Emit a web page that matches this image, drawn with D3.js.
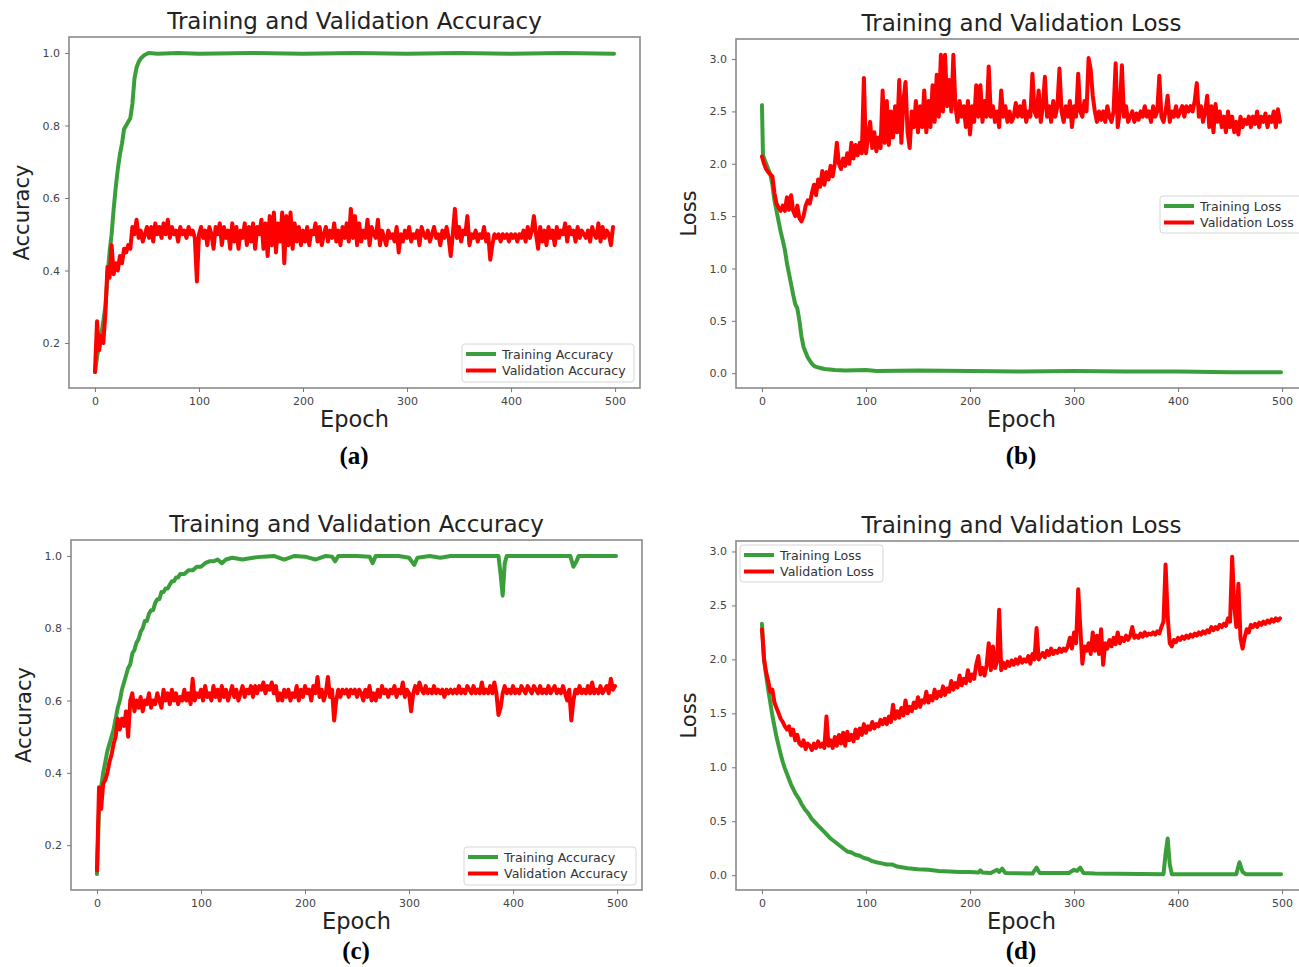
<!DOCTYPE html>
<html><head><meta charset="utf-8">
<script src="https://cdn.jsdelivr.net/npm/d3@7"></script>
<style>body{margin:0;background:#fff}</style>
</head><body>
<svg id="fig" width="1299" height="967"></svg>
<script>
// ---------- DATA ----------
const epochs = d3.range(0, 500, 2); // validation series sampled every 2 epochs
const xTicks = [0, 100, 200, 300, 400, 500];
const accTicks = [0.2, 0.4, 0.6, 0.8, 1.0];
const lossTicks = [0.0, 0.5, 1.0, 1.5, 2.0, 2.5, 3.0];
const accTitle = "Training and Validation Accuracy";
const lossTitle = "Training and Validation Loss";
const accLegend = ["Training Accuracy", "Validation Accuracy"];
const lossLegend = ["Training Loss", "Validation Loss"];
const captions = ["(a)", "(b)", "(c)", "(d)"];

// (a) training accuracy [epoch, value]
const aTrainAcc = [[0,0.12],[2,0.16],[4,0.2],[6,0.22],[8,0.26],[10,0.3],[12,0.38],[14,0.45],[16,0.5],[18,0.57],[20,0.63],[22,0.68],[24,0.72],[26,0.75],[28,0.79],[30,0.8],[32,0.81],[34,0.82],[36,0.86],[38,0.93],[40,0.96],[42,0.975],[44,0.985],[46,0.99],[48,0.995],[52,1.0],[60,0.998],[80,1.0],[100,0.998],[150,1.0],[200,0.998],[250,1.0],[300,0.998],[350,1.0],[400,0.998],[450,1.0],[499,0.998]];
// (a) validation accuracy (every 2 epochs)
const aValAcc = [
0.12,0.26,0.18,0.22,0.2,0.28,0.41,0.38,0.47,0.39,
0.42,0.4,0.44,0.42,0.46,0.45,0.47,0.46,0.52,0.5,
0.54,0.49,0.51,0.48,0.5,0.52,0.49,0.52,0.48,0.53,
0.5,0.52,0.49,0.53,0.5,0.54,0.49,0.52,0.5,0.51,
0.48,0.52,0.5,0.51,0.49,0.52,0.5,0.51,0.49,0.37,
0.5,0.52,0.49,0.51,0.47,0.52,0.5,0.46,0.52,0.5,
0.53,0.47,0.52,0.49,0.51,0.46,0.53,0.48,0.52,0.46,
0.51,0.49,0.53,0.47,0.52,0.48,0.53,0.46,0.52,0.5,
0.54,0.46,0.53,0.44,0.55,0.47,0.56,0.45,0.53,0.48,
0.56,0.42,0.55,0.47,0.56,0.46,0.53,0.48,0.52,0.47,
0.51,0.48,0.52,0.47,0.51,0.5,0.53,0.48,0.52,0.47,
0.5,0.52,0.48,0.51,0.49,0.53,0.48,0.51,0.47,0.52,
0.49,0.53,0.48,0.57,0.49,0.55,0.47,0.53,0.48,0.51,
0.49,0.54,0.47,0.52,0.5,0.49,0.54,0.47,0.51,0.49,
0.47,0.51,0.49,0.5,0.48,0.52,0.45,0.5,0.48,0.51,
0.49,0.52,0.48,0.5,0.49,0.51,0.47,0.52,0.5,0.49,
0.51,0.48,0.5,0.52,0.49,0.5,0.47,0.51,0.49,0.52,
0.49,0.44,0.5,0.57,0.49,0.52,0.48,0.51,0.5,0.55,
0.47,0.5,0.49,0.51,0.48,0.5,0.49,0.52,0.48,0.5,
0.43,0.47,0.5,0.49,0.5,0.48,0.5,0.49,0.5,0.48,
0.5,0.49,0.5,0.48,0.5,0.49,0.51,0.48,0.52,0.49,
0.51,0.55,0.5,0.46,0.52,0.48,0.51,0.47,0.52,0.49,
0.51,0.47,0.52,0.49,0.51,0.5,0.53,0.48,0.52,0.5,
0.51,0.48,0.52,0.49,0.51,0.5,0.49,0.51,0.48,0.52,
0.5,0.49,0.53,0.48,0.52,0.49,0.51,0.5,0.47,0.52];

// (b) training loss [epoch, value]
const bTrainLoss = [[0,2.56],[1,2.08],[4,2.0],[8,1.9],[10,1.8],[12,1.65],[14,1.55],[16,1.45],[18,1.35],[20,1.27],[22,1.18],[24,1.05],[26,0.95],[28,0.85],[30,0.75],[32,0.66],[34,0.62],[36,0.5],[38,0.35],[40,0.25],[42,0.2],[44,0.15],[46,0.12],[48,0.09],[50,0.07],[52,0.06],[56,0.05],[60,0.04],[70,0.03],[80,0.025],[100,0.03],[110,0.02],[150,0.025],[200,0.02],[250,0.015],[300,0.02],[350,0.015],[400,0.015],[450,0.01],[499,0.01]];
// (b) validation loss (every 2 epochs)
const bValLoss = [
2.07,2.0,1.95,1.92,1.9,1.88,1.72,1.62,1.58,1.55,
1.6,1.55,1.68,1.56,1.7,1.55,1.5,1.6,1.48,1.45,
1.5,1.6,1.65,1.62,1.72,1.8,1.7,1.85,1.78,1.93,
1.8,1.92,1.85,1.98,1.88,2.0,2.2,2.0,1.95,2.05,
1.98,2.1,2.0,2.2,2.05,2.18,2.08,2.2,2.1,2.82,
2.1,2.25,2.4,2.15,2.3,2.12,2.25,2.15,2.7,2.2,
2.6,2.18,2.5,2.25,2.55,2.3,2.8,2.2,2.6,2.78,
2.3,2.15,2.5,2.35,2.6,2.3,2.55,2.35,2.7,2.3,
2.6,2.35,2.75,2.4,2.85,2.45,3.04,2.5,3.04,2.55,
2.8,2.5,3.04,2.55,2.4,2.6,2.45,2.55,2.35,2.6,
2.28,2.55,2.4,2.75,2.45,2.75,2.4,2.6,2.45,2.93,
2.45,2.55,2.4,2.5,2.35,2.7,2.45,2.55,2.4,2.5,
2.4,2.45,2.58,2.45,2.55,2.45,2.6,2.4,2.5,2.45,
2.86,2.5,2.45,2.7,2.4,2.55,2.83,2.45,2.55,2.4,
2.6,2.45,2.55,2.91,2.5,2.4,2.55,2.45,2.6,2.35,
2.55,2.45,2.86,2.5,2.45,2.6,2.5,3.01,2.9,2.65,
2.5,2.4,2.5,2.42,2.5,2.4,2.55,2.45,2.4,2.5,
2.96,2.35,2.5,2.94,2.45,2.55,2.4,2.45,2.5,2.4,
2.48,2.42,2.5,2.45,2.55,2.45,2.5,2.4,2.55,2.45,
2.5,2.84,2.45,2.4,2.5,2.65,2.4,2.5,2.45,2.55,
2.45,2.5,2.55,2.45,2.55,2.5,2.55,2.5,2.6,2.77,
2.45,2.55,2.4,2.5,2.65,2.35,2.55,2.3,2.57,2.4,
2.5,2.35,2.45,2.3,2.5,2.35,2.45,2.3,2.4,2.28,
2.45,2.35,2.42,2.38,2.45,2.35,2.45,2.38,2.5,2.35,
2.45,2.4,2.48,2.35,2.45,2.4,2.5,2.35,2.52,2.4];

// (c) training accuracy [epoch, value]
const cTrainAcc = [[0,0.12],[2,0.3],[4,0.36],[6,0.4],[8,0.43],[10,0.46],[12,0.48],[14,0.5],[16,0.52],[18,0.55],[20,0.58],[22,0.6],[24,0.63],[26,0.65],[28,0.67],[30,0.69],[32,0.7],[34,0.73],[36,0.74],[38,0.76],[40,0.77],[42,0.79],[44,0.8],[46,0.82],[48,0.82],[50,0.84],[52,0.85],[54,0.85],[56,0.87],[58,0.88],[60,0.88],[62,0.9],[64,0.9],[66,0.91],[68,0.91],[70,0.92],[72,0.93],[74,0.93],[76,0.94],[78,0.94],[80,0.95],[84,0.95],[88,0.96],[92,0.96],[96,0.97],[100,0.97],[104,0.98],[108,0.985],[112,0.985],[116,0.99],[120,0.98],[124,0.99],[130,0.995],[140,0.99],[150,0.995],[160,0.998],[170,1.0],[180,0.99],[190,1.0],[200,0.998],[210,0.99],[220,1.0],[226,0.998],[229,0.985],[232,1.0],[250,1.0],[262,0.998],[265,0.98],[268,1.0],[290,1.0],[300,0.995],[305,0.975],[308,0.995],[320,1.0],[330,0.995],[340,1.0],[386,1.0],[388,0.95],[390,0.89],[392,0.98],[394,1.0],[455,1.0],[458,0.97],[461,0.985],[463,1.0],[499,1.0]];
// (c) validation accuracy (every 2 epochs)
const cValAcc = [
0.13,0.36,0.3,0.37,0.38,0.4,0.43,0.45,0.48,0.5,
0.55,0.52,0.55,0.53,0.57,0.5,0.6,0.62,0.57,0.6,
0.58,0.61,0.57,0.6,0.59,0.62,0.58,0.6,0.59,0.62,
0.6,0.58,0.63,0.6,0.62,0.59,0.63,0.6,0.62,0.59,
0.61,0.6,0.63,0.6,0.62,0.59,0.66,0.6,0.62,0.61,
0.63,0.6,0.64,0.61,0.62,0.6,0.64,0.61,0.63,0.6,
0.64,0.61,0.63,0.6,0.62,0.64,0.61,0.63,0.6,0.62,
0.64,0.61,0.63,0.62,0.64,0.61,0.64,0.62,0.64,0.63,
0.65,0.62,0.64,0.63,0.65,0.62,0.64,0.6,0.62,0.6,
0.63,0.61,0.63,0.6,0.62,0.61,0.64,0.6,0.63,0.61,
0.64,0.62,0.63,0.6,0.64,0.62,0.665,0.61,0.63,0.6,
0.62,0.665,0.61,0.63,0.545,0.6,0.63,0.61,0.63,0.62,
0.63,0.61,0.63,0.62,0.63,0.61,0.63,0.62,0.6,0.63,
0.61,0.64,0.6,0.62,0.6,0.63,0.61,0.64,0.62,0.63,
0.61,0.63,0.62,0.64,0.61,0.63,0.62,0.65,0.61,0.63,
0.62,0.57,0.62,0.64,0.62,0.65,0.63,0.62,0.64,0.62,
0.63,0.62,0.64,0.62,0.63,0.62,0.63,0.61,0.63,0.62,
0.63,0.62,0.63,0.62,0.64,0.62,0.63,0.62,0.64,0.63,
0.62,0.64,0.62,0.63,0.62,0.65,0.62,0.63,0.62,0.64,
0.62,0.65,0.62,0.56,0.58,0.62,0.64,0.62,0.63,0.62,
0.64,0.62,0.63,0.62,0.64,0.63,0.62,0.64,0.63,0.62,
0.64,0.63,0.62,0.64,0.62,0.63,0.62,0.64,0.62,0.63,
0.64,0.62,0.63,0.62,0.64,0.62,0.6,0.63,0.545,0.6,
0.63,0.62,0.64,0.62,0.63,0.62,0.64,0.62,0.65,0.62,
0.63,0.62,0.64,0.62,0.63,0.64,0.62,0.66,0.63,0.64];

// (d) training loss [epoch, value]
const dTrainLoss = [[0,2.33],[2,2.0],[4,1.85],[6,1.72],[8,1.6],[10,1.48],[12,1.38],[14,1.28],[16,1.2],[18,1.12],[20,1.05],[22,0.99],[24,0.94],[26,0.89],[28,0.84],[30,0.8],[32,0.76],[34,0.73],[36,0.7],[38,0.66],[40,0.63],[42,0.6],[44,0.58],[46,0.55],[48,0.52],[50,0.5],[54,0.46],[58,0.42],[62,0.38],[66,0.34],[70,0.31],[74,0.28],[78,0.25],[82,0.22],[86,0.21],[90,0.19],[94,0.18],[98,0.16],[102,0.15],[106,0.13],[110,0.12],[115,0.11],[120,0.1],[125,0.1],[130,0.08],[140,0.065],[150,0.055],[160,0.05],[170,0.04],[180,0.035],[190,0.03],[200,0.03],[208,0.025],[210,0.045],[212,0.025],[220,0.02],[226,0.05],[228,0.03],[231,0.06],[234,0.02],[260,0.015],[264,0.07],[267,0.02],[295,0.02],[300,0.05],[303,0.04],[306,0.07],[309,0.02],[320,0.015],[386,0.01],[388,0.2],[390,0.34],[392,0.1],[394,0.01],[456,0.01],[459,0.12],[462,0.03],[465,0.01],[499,0.01]];
// (d) validation loss (every 2 epochs)
const dValLoss = [
2.28,2.0,1.88,1.8,1.7,1.72,1.6,1.55,1.5,1.45,
1.42,1.38,1.35,1.38,1.3,1.35,1.25,1.3,1.22,1.2,
1.25,1.17,1.22,1.2,1.16,1.22,1.18,1.24,1.19,1.22,
1.18,1.47,1.2,1.25,1.18,1.28,1.2,1.3,1.22,1.32,
1.2,1.33,1.25,1.3,1.24,1.35,1.27,1.36,1.3,1.4,
1.32,1.38,1.35,1.42,1.36,1.4,1.38,1.44,1.4,1.45,
1.4,1.47,1.42,1.58,1.45,1.52,1.46,1.55,1.48,1.62,
1.5,1.56,1.52,1.6,1.55,1.65,1.56,1.62,1.6,1.7,
1.6,1.66,1.62,1.72,1.64,1.7,1.66,1.75,1.67,1.73,
1.7,1.8,1.72,1.78,1.74,1.85,1.76,1.82,1.78,1.9,
1.8,1.86,1.82,1.95,2.03,1.86,1.92,1.85,1.95,2.15,
1.9,2.12,1.92,1.98,2.46,1.9,1.97,1.92,1.98,1.94,
1.99,1.95,2.0,1.96,2.02,1.97,2.0,1.98,2.03,1.96,
2.05,2.0,2.29,2.0,2.03,2.06,2.02,2.08,2.04,2.1,
2.05,2.08,2.06,2.1,2.07,2.1,2.08,2.12,2.2,2.1,
2.25,2.15,2.65,2.3,1.96,2.12,2.08,2.15,2.05,2.25,
2.08,2.22,2.05,2.28,1.95,2.15,2.1,2.18,2.12,2.2,
2.14,2.25,2.15,2.2,2.17,2.22,2.18,2.22,2.3,2.2,
2.22,2.2,2.24,2.21,2.25,2.22,2.24,2.23,2.25,2.23,
2.26,2.24,2.3,2.35,2.88,2.4,2.15,2.12,2.18,2.16,
2.2,2.18,2.21,2.19,2.22,2.2,2.23,2.21,2.24,2.22,
2.25,2.23,2.26,2.24,2.27,2.25,2.3,2.27,2.3,2.28,
2.32,2.3,2.33,2.31,2.38,2.35,2.95,2.5,2.3,2.7,
2.2,2.1,2.2,2.28,2.25,2.32,2.3,2.33,2.3,2.34,
2.32,2.35,2.33,2.36,2.34,2.37,2.35,2.38,2.36,2.38];

// ---------- LAYOUT ----------
const GREEN = "#3a9f3a", RED = "#ff0000";
const panels = [
  {left:69,  top:37,  w:571, h:351, title:accTitle,  ylab:"Accuracy", ticks:accTicks,  legend:accLegend,
   train:aTrainAcc, val:aValAcc, cap:captions[0], capY:464, leg:{x:462,y:344,w:172,h:38}},
  {left:736, top:39,  w:571, h:349, title:lossTitle, ylab:"Loss",     ticks:lossTicks, legend:lossLegend,
   train:bTrainLoss, val:bValLoss, cap:captions[1], capY:464, leg:{x:1160,y:196,w:150,h:37}},
  {left:71,  top:540, w:571, h:350, title:accTitle,  ylab:"Accuracy", ticks:accTicks,  legend:accLegend,
   train:cTrainAcc, val:cValAcc, cap:captions[2], capY:959, leg:{x:464,y:847,w:172,h:38}},
  {left:736, top:541, w:571, h:349, title:lossTitle, ylab:"Loss",     ticks:lossTicks, legend:lossLegend,
   train:dTrainLoss, val:dValLoss, cap:captions[3], capY:959, leg:{x:740,y:545,w:143,h:37}}
];

const svg = d3.select("#fig");
svg.append("rect").attr("width",1299).attr("height",967).attr("fill","#fff");
const FONT = "DejaVu Sans, sans-serif";

panels.forEach(p => {
  const valPts = p.val.map((v,i) => [epochs[i], v]);
  const all = p.train.map(d=>d[1]).concat(p.val);
  const [mn, mx] = d3.extent(all);
  const pad = (mx - mn) * 0.05;
  const x = d3.scaleLinear().domain([-24.95, 523.95]).range([p.left, p.left + p.w]);
  const y = d3.scaleLinear().domain([mn - pad, mx + pad]).range([p.top + p.h, p.top]);
  const g = svg.append("g");

  const line = d3.line().x(d=>x(d[0])).y(d=>y(d[1]));
  g.append("path").datum(p.train).attr("d", line).attr("fill","none")
    .attr("stroke", GREEN).attr("stroke-width", 4).attr("stroke-linejoin","round").attr("stroke-linecap","round");
  g.append("path").datum(valPts).attr("d", line).attr("fill","none")
    .attr("stroke", RED).attr("stroke-width", 4).attr("stroke-linejoin","round").attr("stroke-linecap","round");

  // frame
  g.append("rect").attr("x", p.left).attr("y", p.top).attr("width", p.w).attr("height", p.h)
    .attr("fill","none").attr("stroke","#8a8a8a").attr("stroke-width",1.6);

  const xa = g.append("g").attr("transform",`translate(0,${p.top+p.h})`)
    .call(d3.axisBottom(x).tickValues(xTicks).tickSize(4).tickPadding(5).tickFormat(d3.format("d")));
  const ya = g.append("g").attr("transform",`translate(${p.left},0)`)
    .call(d3.axisLeft(y).tickValues(p.ticks).tickSize(4).tickPadding(5).tickFormat(d3.format(".1f")));
  [xa, ya].forEach(a => {
    a.select(".domain").remove();
    a.selectAll("line").attr("stroke","#777");
    a.selectAll("text").attr("font-family",FONT).attr("font-size",11).attr("fill","#444");
  });

  const cx = p.left + p.w/2;
  g.append("text").attr("x", cx).attr("y", p.top - 8).attr("text-anchor","middle")
    .attr("font-family",FONT).attr("font-size",23).attr("fill","#222").text(p.title);
  g.append("text").attr("x", cx).attr("y", p.top + p.h + 39).attr("text-anchor","middle")
    .attr("font-family",FONT).attr("font-size",22.5).attr("fill","#222").text("Epoch");
  g.append("text").attr("transform",`translate(${p.left-40},${p.top+p.h/2}) rotate(-90)`)
    .attr("text-anchor","middle").attr("font-family",FONT).attr("font-size",21).attr("fill","#222").text(p.ylab);
  svg.append("text").attr("x", p.left + 285).attr("y", p.capY).attr("text-anchor","middle")
    .attr("font-family","Liberation Serif, Times New Roman, serif").attr("font-weight","bold")
    .attr("font-size",25).attr("fill","#000").text(p.cap);

  // legend
  const L = p.leg;
  g.append("rect").attr("x",L.x).attr("y",L.y).attr("width",L.w).attr("height",L.h).attr("rx",3)
    .attr("fill","#fff").attr("fill-opacity",0.85).attr("stroke","#d6d6d6").attr("stroke-width",1);
  [GREEN, RED].forEach((c,i) => {
    const ly = L.y + 10 + i*16.5;
    g.append("line").attr("x1",L.x+4).attr("x2",L.x+34).attr("y1",ly).attr("y2",ly)
      .attr("stroke",c).attr("stroke-width",4);
    g.append("text").attr("x",L.x+40).attr("y",ly+4.5).attr("font-family",FONT).attr("font-size",12.6)
      .attr("fill","#333").text(p.legend[i]);
  });
});
</script>
</body></html>
